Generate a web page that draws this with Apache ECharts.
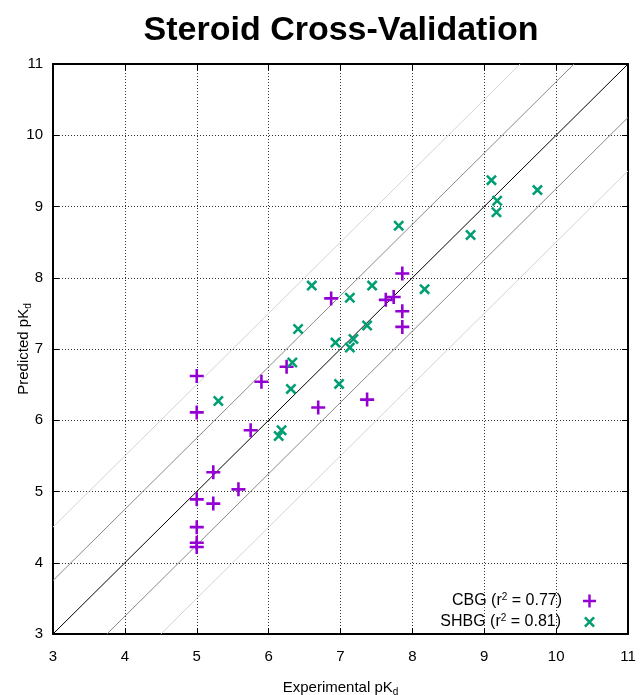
<!DOCTYPE html>
<html>
<head>
<meta charset="utf-8">
<script src="https://cdn.jsdelivr.net/npm/echarts@6/dist/echarts.min.js"></script>
<style>html,body{margin:0;padding:0;background:#fff}#c{width:640px;height:695px}</style>
</head>
<body>
<div id="c"></div>
<script>
var titleText = 'Steroid Cross-Validation';
var xTicks = [3, 4, 5, 6, 7, 8, 9, 10, 11];
var yTicks = [3, 4, 5, 6, 7, 8, 9, 10, 11];

var cbgX = [5.00, 5.00, 5.90, 6.25, 6.69, 7.37, 5.75, 6.87, 7.63, 7.74, 7.86, 7.86, 7.86, 5.23, 5.58, 5.00, 5.23, 5.00, 5.00, 5.00];
var cbgY = [6.62, 6.11, 6.54, 6.75, 6.18, 6.29, 5.86, 7.71, 7.69, 7.73, 8.06, 7.53, 7.31, 5.27, 5.03, 4.89, 4.83, 4.50, 4.28, 4.22];

var shbgX = [7.81, 6.60, 7.44, 7.13, 8.17, 6.41, 7.37, 6.93, 7.18, 7.13, 6.33, 6.31, 6.98, 5.30, 6.18, 6.14, 9.10, 9.74, 9.18, 9.17, 8.81];
var shbgY = [8.73, 7.89, 7.89, 7.72, 7.84, 7.28, 7.33, 7.09, 7.14, 7.02, 6.81, 6.44, 6.51, 6.27, 5.86, 5.78, 9.37, 9.23, 9.08, 8.92, 8.60];

var seriesNames = ['CBG', 'SHBG'];
var r2Values = ['0.77', '0.81'];

var diagOffsets = [0, 0.75, -0.75, 1.5, -1.5];
var diagColors = ['#000000', '#8a8a8a', '#8a8a8a', '#d4d4d4', '#d4d4d4'];

var PLUS = 'path://M0,5.3H13V7.7H0Z M5.3,0H7.7V13H5.3Z';
var CROSS = 'path://M0,1.8L1.8,0L11,9.2L9.2,11Z M9.2,0L11,1.8L1.8,11L0,9.2Z';
var purple = '#9400d3';
var green = '#009e73';
var FONT = '"Liberation Sans", Arial, sans-serif';
var FS = 15;

function zip(a, b) { return a.map(function (v, i) { return [v, b[i]]; }); }

var lo = xTicks[0], hi = xTicks[xTicks.length - 1];
var diagSeries = diagOffsets.map(function (o, i) {
  var data = o >= 0 ? [[lo, lo + o], [hi - o, hi]] : [[lo - o, lo], [hi, hi + o]];
  return {
    type: 'line', data: data, showSymbol: false, silent: true, z: 1,
    lineStyle: { color: diagColors[i], width: 1 }, animation: false
  };
});

var supRich = {
  t: { fontSize: 16, fontFamily: FONT, color: '#000', lineHeight: 18 },
  sup: { fontSize: 10, fontFamily: FONT, color: '#000', verticalAlign: 'top', lineHeight: 18 }
};
var subRich = {
  t: { fontSize: FS, fontFamily: FONT, color: '#000', lineHeight: 18 },
  sub: { fontSize: 10, fontFamily: FONT, color: '#000', verticalAlign: 'bottom', lineHeight: 18 }
};

function legendFmt(name) {
  var i = seriesNames.indexOf(name);
  return '{t|' + name + ' (r}{sup|2}{t| = ' + r2Values[i] + ')}';
}

var commonX = { type: 'value', min: lo, max: hi, interval: 1 };
var commonY = { type: 'value', min: yTicks[0], max: yTicks[yTicks.length - 1], interval: 1 };

var option = {
  animation: false,
  backgroundColor: '#fff',
  title: {
    text: titleText, left: 336, top: 9, textAlign: 'center',
    textStyle: { fontFamily: FONT, fontWeight: 'bold', fontSize: 34, color: '#000' }
  },
  grid: { left: 53, right: 12, top: 64, bottom: 61, outerBoundsMode: 'none', containLabel: false },
  legend: [
    {
      data: [{ name: 'CBG', icon: PLUS }], right: 44, top: 592, padding: 0,
      orient: 'vertical', align: 'right', itemWidth: 13, itemHeight: 13, selectedMode: false,
      formatter: legendFmt, textStyle: { padding: [0, 16, 0, 0], rich: supRich }
    },
    {
      data: [{ name: 'SHBG', icon: CROSS }], right: 45, top: 613, padding: 0,
      orient: 'vertical', align: 'right', itemWidth: 11, itemHeight: 11, selectedMode: false,
      formatter: legendFmt, textStyle: { padding: [0, 18, 0, 0], rich: supRich }
    }
  ],
  xAxis: [
    Object.assign({}, commonX, {
      position: 'bottom',
      name: '{t|Experimental pK}{sub|d}', nameLocation: 'middle', nameGap: 45,
      nameTextStyle: { rich: subRich },
      axisLine: { onZero: false, lineStyle: { color: '#000', width: 2 } },
      axisTick: { inside: true, length: 6, lineStyle: { color: '#000', width: 1 } },
      axisLabel: { margin: 15, fontSize: FS, fontFamily: FONT, color: '#000' },
      splitLine: { show: true, lineStyle: { color: '#333', width: 1, type: [1, 2] } }
    }),
    Object.assign({}, commonX, {
      position: 'top',
      axisLine: { onZero: false, lineStyle: { color: '#000', width: 2 } },
      axisTick: { inside: true, length: 6, lineStyle: { color: '#000', width: 1 } },
      axisLabel: { show: false }, splitLine: { show: false }
    })
  ],
  yAxis: [
    Object.assign({}, commonY, {
      position: 'left',
      name: '{t|Predicted pK}{sub|d}', nameLocation: 'middle', nameGap: 20, nameRotate: 90,
      nameMoveOverlap: false,
      nameTextStyle: { rich: subRich },
      axisLine: { onZero: false, lineStyle: { color: '#000', width: 2 } },
      axisTick: { inside: true, length: 6, lineStyle: { color: '#000', width: 1 } },
      axisLabel: { margin: 10, fontSize: FS, fontFamily: FONT, color: '#000' },
      splitLine: { show: true, lineStyle: { color: '#333', width: 1, type: [1, 2] } }
    }),
    Object.assign({}, commonY, {
      position: 'right',
      axisLine: { onZero: false, lineStyle: { color: '#000', width: 2 } },
      axisTick: { inside: true, length: 6, lineStyle: { color: '#000', width: 1 } },
      axisLabel: { show: false }, splitLine: { show: false }
    })
  ],
  series: diagSeries.concat([
    {
      name: 'CBG', type: 'scatter', data: zip(cbgX, cbgY), symbol: PLUS, symbolSize: 14, z: 3,
      itemStyle: { color: purple, opacity: 1 }
    },
    {
      name: 'SHBG', type: 'scatter', data: zip(shbgX, shbgY), symbol: CROSS, symbolSize: 11, z: 3,
      itemStyle: { color: green, opacity: 1 }
    }
  ])
};

var chart = echarts.init(document.getElementById('c'), null, { renderer: 'canvas' });
chart.setOption(option);
</script>
</body>
</html>
